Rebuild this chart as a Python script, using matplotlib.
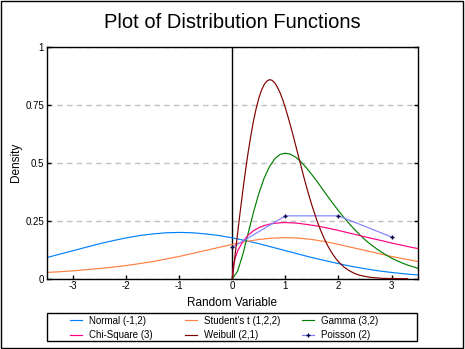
import matplotlib
matplotlib.use("Agg")
import matplotlib.pyplot as plt
from matplotlib.patches import Rectangle

plt.rcParams["font.family"] = ["Liberation Sans", "DejaVu Sans"]
plt.rcParams["axes.unicode_minus"] = False

# values
x_full = [-3.5, -3.25, -3.0, -2.75, -2.5, -2.25, -2.0, -1.75, -1.5, -1.25,
          -1.0, -0.75, -0.5, -0.25, 0.0, 0.25, 0.5, 0.75, 1.0, 1.25,
          1.5, 1.75, 2.0, 2.25, 2.5, 2.75, 3.0, 3.25, 3.5]
normal = [0.091, 0.106, 0.121, 0.136, 0.151, 0.164, 0.176, 0.186, 0.193, 0.198,
          0.1995, 0.198, 0.193, 0.186, 0.176, 0.164, 0.151, 0.136, 0.121, 0.106,
          0.091, 0.078, 0.065, 0.053, 0.043, 0.034, 0.027, 0.021, 0.016]
student_t = [0.027, 0.030, 0.034, 0.039, 0.044, 0.050, 0.057, 0.065, 0.074, 0.085,
             0.096, 0.109, 0.122, 0.135, 0.148, 0.160, 0.169, 0.175, 0.177, 0.175,
             0.169, 0.160, 0.148, 0.135, 0.122, 0.109, 0.096, 0.085, 0.074]

x_pos = [0.0, 0.1, 0.2, 0.3, 0.4, 0.5, 0.6, 0.7, 0.8, 0.9,
         1.0, 1.1, 1.2, 1.3, 1.4, 1.5, 1.6, 1.7, 1.8, 1.9,
         2.0, 2.1, 2.2, 2.3, 2.4, 2.5, 2.6, 2.7, 2.8, 2.9,
         3.0, 3.1, 3.2, 3.3, 3.4, 3.5]
gamma = [0.0, 0.033, 0.107, 0.198, 0.288, 0.368, 0.434, 0.483, 0.517, 0.536,
         0.541, 0.536, 0.523, 0.502, 0.477, 0.448, 0.418, 0.386, 0.354, 0.323,
         0.293, 0.265, 0.238, 0.213, 0.190, 0.168, 0.149, 0.132, 0.116, 0.102,
         0.089, 0.078, 0.068, 0.059, 0.052, 0.045]

x_chi = [0.0, 0.02, 0.05, 0.1, 0.2, 0.3, 0.4, 0.5, 0.6, 0.7, 0.8, 0.9,
         1.0, 1.2, 1.4, 1.6, 1.8, 2.0, 2.2, 2.4, 2.6, 2.8, 3.0, 3.2, 3.4, 3.5]
chi_square = [0.0, 0.056, 0.087, 0.120, 0.161, 0.188, 0.207, 0.220, 0.229, 0.235,
              0.239, 0.241, 0.242, 0.240, 0.234, 0.227, 0.218, 0.208, 0.197, 0.186,
              0.175, 0.165, 0.154, 0.144, 0.134, 0.130]

x_weibull = [0.0, 0.05, 0.1, 0.15, 0.2, 0.25, 0.3, 0.35, 0.4, 0.45,
             0.5, 0.55, 0.6, 0.65, 0.7, 0.75, 0.8, 0.85, 0.9, 0.95,
             1.0, 1.05, 1.1, 1.15, 1.2, 1.25, 1.3, 1.35, 1.4, 1.45,
             1.5, 1.55, 1.6, 1.65, 1.7, 1.75, 1.8, 1.85, 1.9, 1.95,
             2.0, 2.1, 2.2, 2.3, 2.4, 2.5, 2.6, 2.7, 2.8, 2.9, 3.0, 3.3]
weibull = [0.0, 0.100, 0.198, 0.293, 0.384, 0.470, 0.548, 0.619, 0.682, 0.735,
           0.779, 0.813, 0.837, 0.852, 0.858, 0.855, 0.844, 0.825, 0.801, 0.771,
           0.736, 0.697, 0.656, 0.613, 0.569, 0.524, 0.480, 0.436, 0.394, 0.354,
           0.316, 0.281, 0.247, 0.217, 0.189, 0.164, 0.141, 0.121, 0.103, 0.087,
           0.073, 0.051, 0.035, 0.023, 0.015, 0.010, 0.006, 0.004, 0.002, 0.001,
           0.001, 0.0]

x_poisson = [0, 1, 2, 3]
poisson = [0.135, 0.271, 0.271, 0.180]

fig = plt.figure(figsize=(4.65, 3.49), dpi=100)
ax = fig.add_axes([0.1004, 0.2014, 0.7986, 0.6648])

lw = 0.85
h_norm, = ax.plot(x_full, normal, color="#0080ff", lw=lw, label="Normal (-1,2)")
h_t, = ax.plot(x_full, student_t, color="#ff8040", lw=lw, label="Student's t (1,2,2)")
h_gam, = ax.plot(x_pos, gamma, color="#008000", lw=lw, label="Gamma (3,2)")
h_chi, = ax.plot(x_chi, chi_square, color="#ff0080", lw=lw, label="Chi-Square (3)")
h_wei, = ax.plot(x_weibull, weibull, color="#800000", lw=lw,
                 label="Weibull (2,1)", zorder=3, clip_on=False)
h_poi, = ax.plot(x_poisson, poisson, color="#8080ff", lw=lw, marker="+", ms=2.5,
                 mec="#000040", mew=1.0, label="Poisson (2)")

ax.axvline(0, color="black", lw=1.0, zorder=1)

ax.set_xlim(-3.5, 3.5)
ax.set_ylim(0, 1)
ax.set_xticks([-3, -2, -1, 0, 1, 2, 3])
ax.set_yticks([0, 0.25, 0.5, 0.75, 1])
ax.set_yticklabels(["0", "0.25", "0.5", "0.75", "1"])
ax.tick_params(direction="in", length=3, width=1, labelsize=7, pad=2,
               right=True, left=True, top=False)
ax.yaxis.grid(True, ls=(0, (4, 3)), color="#c0c0c0", lw=1.0)
ax.set_axisbelow(True)
for s in ax.spines.values():
    s.set_linewidth(1.0)

ax.set_xlabel("Random Variable", fontsize=8.5, labelpad=4)
ax.set_ylabel("Density", fontsize=8.5, labelpad=2)
fig.text(0.5, 0.935, "Plot of Distribution Functions", ha="center",
         va="center", fontsize=14.5)

# legend: one box, three columns placed like the reference
columns = [(h_norm, h_chi), (h_t, h_wei), (h_gam, h_poi)]
col_x = [0.1505, 0.3978, 0.6495]
for (a, b), cx in zip(columns, col_x):
    fig.legend([a, b], [a.get_label(), b.get_label()], loc="center left",
               bbox_to_anchor=(cx, 0.0605), frameon=False, fontsize=7,
               handlelength=1.25, handletextpad=0.75, borderpad=0,
               labelspacing=0.45, numpoints=1, borderaxespad=0)
fig.patches.append(Rectangle((0.1004, 0.0229), 0.797, 0.0811, transform=fig.transFigure,
                             fill=False, edgecolor="black", lw=1.0))

# outer frame of the picture
fig.patches.append(Rectangle((0.002, 0.003), 0.994, 0.994, transform=fig.transFigure,
                             fill=False, edgecolor="black", lw=1.0))

fig.savefig("out.png", dpi=100)
